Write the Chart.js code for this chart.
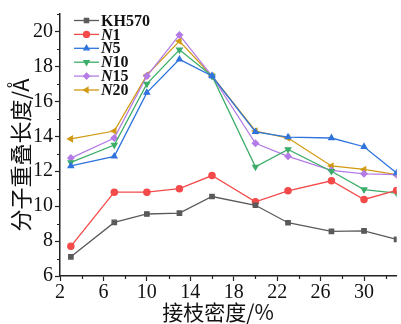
<!DOCTYPE html>
<html><head><meta charset="utf-8">
<script src="https://cdn.jsdelivr.net/npm/chart.js@4"></script>
<style>html,body{margin:0;padding:0;background:#fff}#wrap{width:401px;height:324px}</style>
</head><body><div id="wrap"><canvas id="c"></canvas></div>
<script>
// Grafting density (%) and molecular overlap length (Å)
const density = [3, 7, 10, 13, 16, 20, 23, 27, 30, 33];
const kh570 = [7.1, 9.07, 9.55, 9.6, 10.55, 10.05, 9.05, 8.55, 8.58, 8.1];
const n1 = [7.7, 10.8, 10.8, 11.0, 11.75, 10.25, 10.88, 11.45, 10.38, 10.9];
const n5 = [12.3, 12.85, 16.5, 18.4, 17.45, 14.25, 13.95, 13.9, 13.4, 11.9];
const n10 = [12.5, 13.5, 17.0, 18.95, 17.45, 12.25, 13.25, 12.0, 10.95, 10.75];
const n15 = [12.75, 13.9, 17.45, 19.8, 17.45, 13.6, 12.85, 12.05, 11.85, 11.8];
const n20 = [13.85, 14.3, 17.5, 19.45, 17.45, 14.3, 13.9, 12.3, 12.1, 11.8];
const xTicks = [2, 6, 10, 14, 18, 22, 26, 30];
const yTicks = [6, 8, 10, 12, 14, 16, 18, 20];
const xMinor = [4, 8, 12, 16, 20, 24, 28, 32];
const yMinor = [7, 9, 11, 13, 15, 17, 19, 21];

const SERIF = '"Liberation Serif", "Times New Roman", serif';

function series(prefix, num, values, color, style, rotation) {
  return {
    prefix, num,
    label: prefix + num,
    data: density.map((x, i) => ({ x, y: values[i] })),
    borderColor: color, backgroundColor: color,
    borderWidth: 1.3,
    pointStyle: style, pointRotation: rotation || 0,
    pointRadius: 3.1, pointHoverRadius: 3.1,
    tension: 0
  };
}

const datasets = [
  series('KH570', '', kh570, '#5a5a5a', 'rect'),
  series('N', '1', n1, '#f34a4a', 'circle'),
  series('N', '5', n5, '#2f74dc', 'triangle'),
  series('N', '10', n10, '#3dae6a', 'triangle', 180),
  series('N', '15', n15, '#b47ce6', 'rectRot'),
  series('N', '20', n20, '#d09a12', 'triangle', -90)
];

// minor ticks, axis titles and the series key
const extras = {
  id: 'extras',
  afterDraw(chart) {
    const ctx = chart.ctx;
    const xs = chart.scales.x, ys = chart.scales.y;
    const area = chart.chartArea;
    ctx.save();
    ctx.strokeStyle = '#222';
    ctx.lineWidth = 1.2;
    ctx.beginPath();
    xMinor.forEach(v => {
      const px = Math.round(xs.getPixelForValue(v)) + 0.5;
      ctx.moveTo(px, area.bottom); ctx.lineTo(px, area.bottom + 3);
    });
    yMinor.forEach(v => {
      const py = Math.round(ys.getPixelForValue(v)) + 0.5;
      ctx.moveTo(area.left, py); ctx.lineTo(area.left - 3, py);
    });
    ctx.stroke();

    // axis titles
    ctx.fillStyle = '#111';
    ctx.font = '21px "Noto Sans CJK SC", sans-serif';
    ctx.textAlign = 'center';
    ctx.textBaseline = 'middle';
    ctx.fillText('接枝密度/%', 218, 312);
    ctx.save();
    ctx.translate(21, 155);
    ctx.rotate(-Math.PI / 2);
    ctx.font = '22px "Noto Sans CJK SC", sans-serif';
    ctx.fillText('分子重叠长度/Å', 0, 0);
    ctx.restore();

    // key
    const x0 = 74, x1 = 99;
    let y = 20.5;
    ctx.textAlign = 'left';
    ctx.textBaseline = 'middle';
    chart.data.datasets.forEach(ds => {
      ctx.strokeStyle = ds.borderColor;
      ctx.lineWidth = 1.3;
      ctx.beginPath(); ctx.moveTo(x0, y); ctx.lineTo(x1, y); ctx.stroke();
      ctx.fillStyle = ds.backgroundColor;
      Chart.helpers.drawPoint(ctx, { pointStyle: ds.pointStyle, rotation: ds.pointRotation, radius: 3, borderWidth: 1 }, (x0 + x1) / 2, y);
      ctx.fillStyle = '#111';
      let tx = x1 + 2;
      if (ds.num) {
        ctx.font = 'italic bold 16px ' + SERIF;
        ctx.fillText(ds.prefix, tx, y + 1);
        tx += ctx.measureText(ds.prefix).width;
        ctx.font = 'bold 16px ' + SERIF;
        ctx.fillText(ds.num, tx, y + 1);
      } else {
        ctx.font = 'bold 16px ' + SERIF;
        ctx.fillText(ds.prefix, tx, y + 1);
      }
      y += 13.9;
    });
    ctx.restore();
  }
};

new Chart(document.getElementById('c'), {
  type: 'line',
  data: { datasets },
  plugins: [extras],
  options: {
    responsive: true,
    maintainAspectRatio: false,
    animation: false,
    layout: { padding: { top: 8, right: 1, left: 0, bottom: 0 } },
    plugins: { legend: { display: false }, tooltip: { enabled: false } },
    scales: {
      x: {
        type: 'linear', min: 2, max: 33,
        afterBuildTicks: s => { s.ticks = xTicks.map(v => ({ value: v })); },
        afterFit: s => { s.height = 48; },
        grid: { drawOnChartArea: false, tickLength: 5, tickColor: '#222', tickWidth: 1.2 },
        border: { color: '#222', width: 1.5 },
        ticks: { color: '#111', font: { family: SERIF, size: 20 }, padding: 0, maxRotation: 0 }
      },
      y: {
        type: 'linear', min: 6, max: 21,
        afterBuildTicks: s => { s.ticks = yTicks.map(v => ({ value: v })); },
        afterFit: s => { s.width = 60; },
        grid: { drawOnChartArea: false, tickLength: 5, tickColor: '#222', tickWidth: 1.2 },
        border: { color: '#222', width: 1.5 },
        ticks: { color: '#111', font: { family: SERIF, size: 20 }, padding: 2 }
      }
    }
  }
});
</script>
</body></html>
